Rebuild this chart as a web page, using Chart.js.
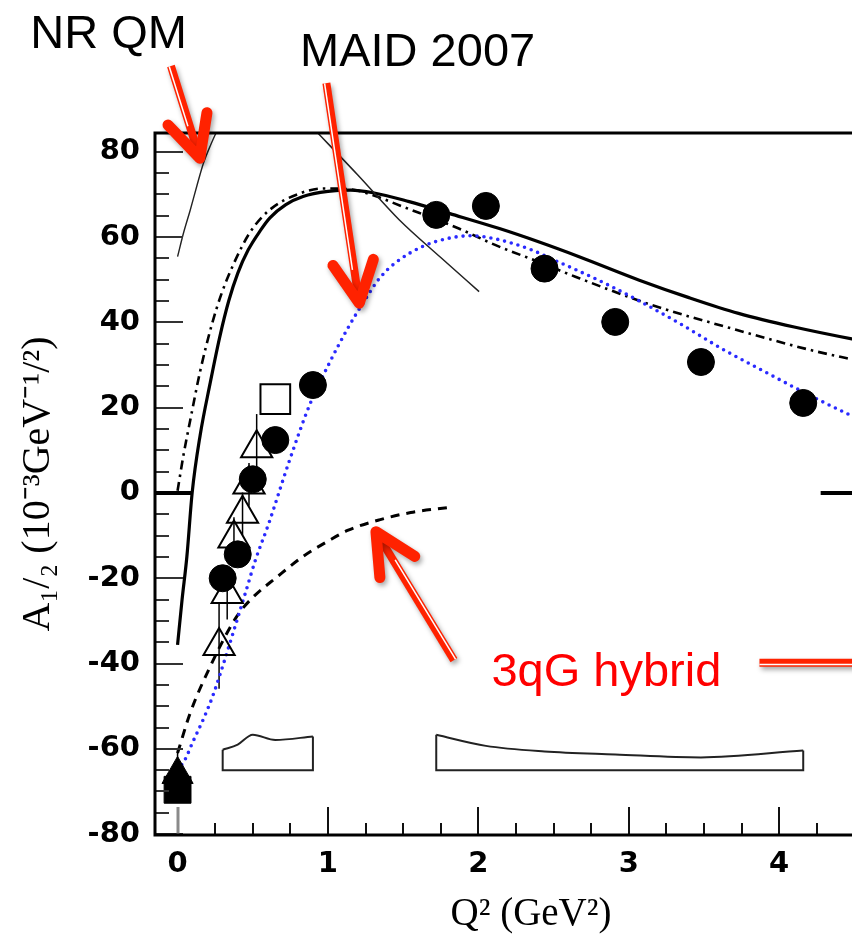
<!DOCTYPE html>
<html><head><meta charset="utf-8">
<script src="https://cdn.jsdelivr.net/npm/chart.js@4.4.1/dist/chart.umd.min.js"></script>
<style>
html,body{margin:0;padding:0;background:#fff;overflow:hidden;width:852px;height:939px;}
canvas{display:block;}
</style></head><body>
<canvas id="c" width="930" height="939"></canvas>
<script>
// ---------------- data ----------------
const xTickValues = [0, 1, 2, 3, 4];
const yTickValues = [-80, -60, -40, -20, 0, 20, 40, 60, 80];
const xMinorStep = 0.25;
const yMinorStep = 5;

// CLAS data (filled circles)
const clasQ2  = [0.30, 0.40, 0.50, 0.65, 0.90, 1.72, 2.05, 2.44, 2.91, 3.48, 4.16];
const clasA12 = [-20.0, -14.4, 3.2, 12.4, 25.3, 65.2, 67.3, 52.6, 40.1, 30.7, 21.1];

// open triangles (with error bars)
const triQ2  = [0.276, 0.33, 0.375, 0.432, 0.475, 0.526];
const triA12 = [-35.9, -23.7, -10.7, -4.9, 2.0, 10.5];
const triErr = [10, 6, 5, 5, 5, 8];

// open square
const sqQ2  = [0.65];
const sqA12 = [22.0];

// photon point(s) at Q2 = 0
const photTriQ2 = [0];
const photTriA12 = [-66.0];
const photTriErr = [6];
const photSqQ2 = [0];
const photSqA12 = [-69.6];

// NR QM (thin solid, top left)
const nrqmQ2 = [0, 0.04, 0.084, 0.13, 0.172, 0.22, 0.27];
const nrqmA  = [55.4, 61.0, 66.3, 72.2, 77.3, 81.6, 85.5];

// thin solid straight line (upper middle)
const thinQ2 = [0.90, 1.20, 1.475, 1.75, 2.005];
const thinA  = [85.6, 74.5, 64.0, 55.2, 47.2];

// thick solid curve
const solidQ2 = [0, 0.03, 0.062, 0.097, 0.15, 0.217, 0.28, 0.34, 0.40, 0.47, 0.55, 0.614, 0.72, 0.834, 1.0, 1.15, 1.3, 1.54, 1.81, 2.14, 2.40, 2.67, 3.07, 3.40, 3.73, 4.10, 4.50, 4.85];
const solidA  = [-35.6, -25.0, -14.9, 0.0, 13.5, 25.8, 36.5, 45.0, 51.5, 57.0, 61.5, 64.5, 67.6, 69.5, 70.7, 71.0, 70.4, 68.3, 65.5, 62.0, 58.9, 55.4, 49.9, 45.8, 42.1, 38.9, 36.0, 33.8];

// dash-dot curve
const dashDotQ2 = [0, 0.04, 0.084, 0.15, 0.228, 0.29, 0.37, 0.48, 0.61, 0.81, 0.97, 1.15, 1.3, 1.5, 1.87, 2.115, 2.40, 2.645, 3.15, 3.68, 4.21, 4.50, 4.85];
const dashDotA  = [0.5, 9.0, 17.0, 28.5, 39.5, 46.5, 53.5, 61.0, 66.3, 70.2, 71.4, 71.2, 69.8, 67.1, 62.0, 58.1, 54.2, 50.7, 44.1, 38.6, 33.5, 31.2, 28.6];

// MAID 2007 (blue dotted)
const maidQ2 = [0, 0.05, 0.10, 0.172, 0.23, 0.283, 0.35, 0.448, 0.52, 0.603, 0.746, 0.88, 1.01, 1.13, 1.25, 1.342, 1.45, 1.63, 1.80, 1.95, 2.05, 2.20, 2.36, 2.53, 2.645, 2.85, 3.06, 3.35, 3.62, 3.90, 4.17, 4.50, 4.85];
const maidA  = [-65.0, -62.5, -58.5, -53.0, -48.0, -42.5, -35.0, -23.8, -15.5, -7.5, 7.8, 20.8, 30.5, 38.5, 45.5, 50.3, 54.0, 57.8, 59.7, 60.3, 60.0, 58.8, 56.9, 54.2, 52.4, 49.0, 45.2, 39.5, 33.8, 28.5, 23.5, 17.8, 12.5];

// 3qG hybrid (dashed)
const hybridQ2 = [0, 0.084, 0.217, 0.393, 0.50, 0.658, 0.834, 1.0, 1.13, 1.342, 1.55, 1.80];
const hybridA  = [-61.0, -51.6, -40.7, -29.0, -24.5, -19.8, -14.9, -11.3, -8.8, -6.3, -4.6, -3.4];

// systematic-error bands (outlines)
const band1Q2 = [0.30, 0.40, 0.50, 0.65, 0.90];
const band1Top = [-60.2, -59.0, -56.7, -57.9, -57.1];
const band2Q2 = [1.72, 2.05, 2.44, 2.91, 3.48, 4.16];
const band2Top = [-56.7, -59.3, -60.6, -61.3, -62.0, -60.4];
const bandBase = -65.0;

// zero-level segments
const zeroLeftQ2 = [-0.15, 0.095];
const zeroRightQ2 = [4.276, 4.85];

// annotations (data coordinates)
const noteText = ["NR QM", "MAID 2007", "3qG hybrid"];
const noteQ2 = [-0.458, 1.596, 2.851];
const noteA = [104.3, 100.1, -45.3];
const noteColor = ["#000000", "#000000", "#ff0000"];
// arrows: tail -> tip
const arrowTailQ2 = [-0.044, 0.9895, 1.8376, 3.869];
const arrowTailA  = [100.1, 96.1, -39.2, -39.8];
const arrowTipQ2  = [0.148, 1.208, 1.319, 4.95];
const arrowTipA   = [78.5, 44.5, -9.1, -39.8];
const arrowHasHead = [true, true, true, false];

// ---------------- helpers ----------------
const pts = (xs, ys) => xs.map((x, i) => ({x: x, y: ys[i]}));
function bandOutline(q, top) {
  const n = q.length - 1;
  return [{x: q[0], y: top[0]}, {x: q[0], y: bandBase}, {x: q[n], y: bandBase}, {x: q[n], y: top[n]}];
}
function lineDS(label, data, color, width, dash, order, extra) {
  return Object.assign({
    label, data, type: 'line', showLine: true, borderColor: color, backgroundColor: color,
    borderWidth: width, borderDash: dash || [], pointRadius: 0, pointHoverRadius: 0,
    fill: false, cubicInterpolationMode: 'monotone', order: order
  }, extra || {});
}

// ---------------- plugins ----------------
const errorBars = {
  id: 'errorBars',
  beforeDatasetsDraw(chart) {
    const {ctx, scales: {x, y}} = chart;
    ctx.save();
    ctx.strokeStyle = '#000';
    ctx.lineWidth = 1.5;
    const draw = (qs, as, es) => qs.forEach((q, i) => {
      const px = x.getPixelForValue(q);
      ctx.beginPath();
      ctx.moveTo(px, y.getPixelForValue(as[i] + es[i]));
      ctx.lineTo(px, y.getPixelForValue(as[i] - es[i]));
      ctx.stroke();
    });
    draw(triQ2, triA12, triErr);
    draw(photTriQ2, photTriA12, photTriErr);
    ctx.restore();
  }
};

const frameTicks = {
  id: 'frameTicks',
  afterDatasetsDraw(chart) {
    const {ctx, chartArea: a, scales: {x, y}} = chart;
    ctx.save();
    // y ticks (inward, left side)
    const yMin = yTickValues[0], yMax = yTickValues[yTickValues.length - 1];
    for (let v = yMin; v <= yMax + 1e-9; v += yMinorStep) {
      if (v === 0) continue;
      const py = Math.round(y.getPixelForValue(v));
      const major = yTickValues.includes(v);
      ctx.beginPath();
      ctx.strokeStyle = '#333'; ctx.lineWidth = 2;
      ctx.moveTo(a.left, py); ctx.lineTo(a.left + (major ? 28 : 14), py);
      ctx.stroke();
    }
    // x ticks (inward, bottom)
    const xMax = x.max;
    for (let v = 0; v <= xMax + 1e-9; v += xMinorStep) {
      const px = Math.round(x.getPixelForValue(v));
      const major = xTickValues.includes(v);
      ctx.beginPath();
      ctx.strokeStyle = v === 0 ? '#8a8a8a' : '#111';
      ctx.lineWidth = v === 0 ? 3 : 2;
      ctx.moveTo(px, a.bottom); ctx.lineTo(px, a.bottom - (major ? 28 : 12));
      ctx.stroke();
    }
    // frame
    ctx.strokeStyle = '#000';
    ctx.lineWidth = 3;
    ctx.strokeRect(a.left, a.top, a.right - a.left, a.bottom - a.top);
    ctx.restore();
  }
};

const notes = {
  id: 'notes',
  afterDraw(chart) {
    const {ctx, scales: {x, y}} = chart;
    ctx.save();
    // arrows
    arrowTailQ2.forEach((q, i) => {
      const x0 = x.getPixelForValue(q), y0 = y.getPixelForValue(arrowTailA[i]);
      const x1 = x.getPixelForValue(arrowTipQ2[i]), y1 = y.getPixelForValue(arrowTipA[i]);
      const ang = Math.atan2(y1 - y0, x1 - x0);
      const nx = -Math.sin(ang), ny = Math.cos(ang);
      ctx.save();
      ctx.shadowColor = 'rgba(0,0,0,0.35)';
      ctx.shadowBlur = 5; ctx.shadowOffsetX = 2; ctx.shadowOffsetY = 3;
      ctx.strokeStyle = '#ff2200';
      ctx.lineCap = 'butt';
      ctx.lineWidth = 8;
      const sx = arrowHasHead[i] ? x1 - Math.cos(ang) * 6 : x1;
      const sy = arrowHasHead[i] ? y1 - Math.sin(ang) * 6 : y1;
      ctx.beginPath(); ctx.moveTo(x0, y0); ctx.lineTo(sx, sy); ctx.stroke();
      if (arrowHasHead[i]) {
        ctx.lineWidth = 11; ctx.lineCap = 'round'; ctx.lineJoin = 'round';
        const back = ang + Math.PI, d = 0.46, L = 46;
        ctx.beginPath();
        ctx.moveTo(x1 + Math.cos(back - d) * L, y1 + Math.sin(back - d) * L);
        ctx.lineTo(x1, y1);
        ctx.lineTo(x1 + Math.cos(back + d) * L, y1 + Math.sin(back + d) * L);
        ctx.stroke();
      }
      ctx.restore();
      // inner white stripe (double-line look)
      ctx.save();
      ctx.strokeStyle = '#ffffff';
      ctx.lineWidth = 1.5;
      const off = 1.8;
      const ex = arrowHasHead[i] ? x1 - Math.cos(ang) * 34 : x1;
      const ey = arrowHasHead[i] ? y1 - Math.sin(ang) * 34 : y1;
      ctx.beginPath();
      ctx.moveTo(x0 + nx * off, y0 + ny * off);
      ctx.lineTo(ex + nx * off, ey + ny * off);
      ctx.stroke();
      ctx.restore();
    });
    // labels
    ctx.font = '47px "Liberation Sans", Arial, sans-serif';
    ctx.textAlign = 'center';
    ctx.textBaseline = 'alphabetic';
    noteText.forEach((t, i) => {
      ctx.fillStyle = noteColor[i];
      ctx.fillText(t, x.getPixelForValue(noteQ2[i]), y.getPixelForValue(noteA[i]));
    });
    ctx.restore();
  }
};

// ---------------- chart ----------------
const datasets = [
  {label: 'CLAS', type: 'scatter', data: pts(clasQ2, clasA12), pointStyle: 'circle', pointRadius: 13.5,
   pointHoverRadius: 13.5, backgroundColor: '#000', borderColor: '#000', borderWidth: 1, order: 0},
  {label: 'open square', type: 'scatter', data: pts(sqQ2, sqA12), pointStyle: 'rect', pointRadius: 21,
   pointHoverRadius: 21, backgroundColor: '#fff', borderColor: '#000', borderWidth: 2, order: 1},
  {label: 'photon point', type: 'scatter', data: pts(photTriQ2, photTriA12), pointStyle: 'triangle', pointRadius: 18,
   pointHoverRadius: 18, backgroundColor: '#000', borderColor: '#000', borderWidth: 1, order: 1},
  {label: 'photon point 2', type: 'scatter', data: pts(photSqQ2, photSqA12), pointStyle: 'rect', pointRadius: 19,
   pointHoverRadius: 19, backgroundColor: '#000', borderColor: '#000', borderWidth: 1, order: 1},
  {label: 'open triangles', type: 'scatter', data: pts(triQ2, triA12), pointStyle: 'triangle', pointRadius: 18,
   pointHoverRadius: 18, backgroundColor: 'rgba(0,0,0,0)', borderColor: '#000', borderWidth: 2, order: 2},
  lineDS('NR QM', pts(nrqmQ2, nrqmA), '#222', 1.4, [], 5),
  lineDS('thin line', pts(thinQ2, thinA), '#222', 1.5, [], 5),
  lineDS('solid', pts(solidQ2, solidA), '#000', 3.2, [], 5),
  lineDS('dash-dot', pts(dashDotQ2, dashDotA), '#000', 2.6, [9, 5, 2.5, 5], 5),
  lineDS('MAID 2007', pts(maidQ2, maidA), '#2a2aff', 3.6, [0, 7], 4, {borderCapStyle: 'round'}),
  lineDS('3qG hybrid', pts(hybridQ2, hybridA), '#000', 3, [9, 7], 5),
  lineDS('band1 top', pts(band1Q2, band1Top), '#222', 2, [], 6),
  lineDS('band1 box', bandOutline(band1Q2, band1Top), '#222', 2, [], 6, {cubicInterpolationMode: 'default', tension: 0}),
  lineDS('band2 top', pts(band2Q2, band2Top), '#222', 2, [], 6),
  lineDS('band2 box', bandOutline(band2Q2, band2Top), '#222', 2, [], 6, {cubicInterpolationMode: 'default', tension: 0}),
  lineDS('zero left', pts(zeroLeftQ2, [0, 0]), '#000', 4, [], 6, {cubicInterpolationMode: 'default'}),
  lineDS('zero right', pts(zeroRightQ2, [0, 0]), '#000', 4, [], 6, {cubicInterpolationMode: 'default'})
];

new Chart(document.getElementById('c'), {
  type: 'scatter',
  data: {datasets},
  options: {
    responsive: false,
    animation: false,
    devicePixelRatio: 1,
    events: [],
    layout: {padding: {left: 0, right: 20, top: 133, bottom: 0}},
    plugins: {legend: {display: false}, tooltip: {enabled: false}},
    scales: {
      x: {
        type: 'linear', min: -0.15, max: 4.85,
        afterBuildTicks: s => { s.ticks = xTickValues.map(v => ({value: v})); },
        afterFit: s => { s.height = 104; },
        grid: {display: false, drawTicks: false},
        border: {display: false},
        ticks: {color: '#000', padding: 12, maxRotation: 0, autoSkip: false,
                font: {family: '"DejaVu Sans", sans-serif', size: 29, weight: 'bold'}},
        title: {display: true, text: 'Q² (GeV²)', color: '#000', padding: {top: 0, bottom: 1},
                font: {family: '"Liberation Serif", "Times New Roman", serif', size: 39, weight: 'normal'}}
      },
      y: {
        type: 'linear', min: -80.2, max: 84.4,
        afterBuildTicks: s => { s.ticks = yTickValues.map(v => ({value: v})); },
        afterFit: s => { s.width = 155; },
        grid: {display: false, drawTicks: false},
        border: {display: false},
        ticks: {color: '#000', padding: 15, autoSkip: false,
                font: {family: '"DejaVu Sans", sans-serif', size: 29, weight: 'bold'}},
        title: {display: true, text: 'A₁/₂ (10⁻³GeV⁻¹/²)', color: '#000', padding: {top: 14, bottom: 0},
                font: {family: '"Liberation Serif", "Times New Roman", serif', size: 40, weight: 'normal'}}
      }
    }
  },
  plugins: [errorBars, frameTicks, notes]
});
</script>
</body></html>
